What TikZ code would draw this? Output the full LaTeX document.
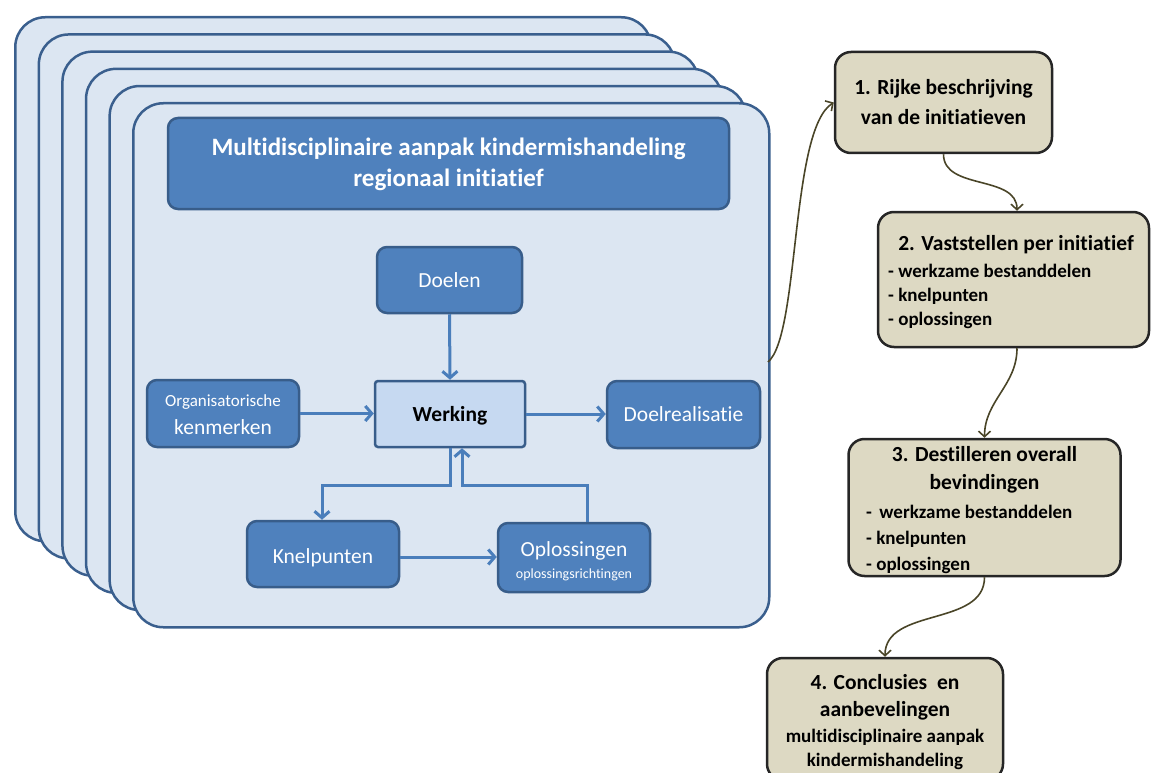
\documentclass[tikz,border=0pt]{standalone}
\usepackage{fontspec}
\setmainfont{Carlito}[Ligatures=NoCommon]
\usetikzlibrary{arrows.meta}
\definecolor{cardfill}{HTML}{DCE6F2}
\definecolor{cardline}{HTML}{3A5F8E}
\definecolor{boxfill}{HTML}{4F81BD}
\definecolor{boxline}{HTML}{385D8A}
\definecolor{werkfill}{HTML}{C6D9F1}
\definecolor{arrowblue}{HTML}{4A7EBB}
\definecolor{tanfill}{HTML}{DDD9C3}
\definecolor{tanline}{HTML}{262626}
\definecolor{olive}{HTML}{4A4528}
\tikzset{
  card/.style={draw=cardline, fill=cardfill, line width=2.5pt, rounded corners=30pt,
    anchor=north west, minimum width=636pt, minimum height=524pt, inner sep=0pt},
  bluebox/.style={draw=boxline, fill=boxfill, line width=2.5pt, rounded corners=10pt, inner sep=0pt},
  werkbox/.style={draw=boxline, fill=werkfill, line width=2.5pt, rounded corners=3pt, inner sep=0pt},
  tanbox/.style={draw=tanline, fill=tanfill, line width=2.5pt, rounded corners=16pt, inner sep=0pt},
  wtxt/.style={text=white, inner sep=0pt, anchor=base, font=\fontsize{21.5}{24}\selectfont},
  btxt/.style={text=black, inner sep=0pt, anchor=base, font=\bfseries\fontsize{21.5}{24}\selectfont},
  itxt/.style={text=black, inner sep=0pt, anchor=base west, font=\bfseries\fontsize{19}{22}\selectfont},
  barrow/.style={draw=arrowblue, line width=3pt, -{Straight Barb[length=6.5pt,width=15pt]}},
  oarrow/.style={draw=olive, line width=1.6pt, -{Straight Barb[length=5.5pt,width=12pt]}},
}
\begin{document}
\begin{tikzpicture}[x=1pt,y=-1pt]
\useasboundingbox (0,0) rectangle (1151,773);
% stacked cards
\node[card] (c1) at (14,16) {};
\node[card] (c2) at (37.6,33.2) {};
\node[card] (c3) at (61.2,50.4) {};
\node[card] (c4) at (84.8,67.6) {};
\node[card] (c5) at (108.4,84.8) {};
\node[card] (c6) at (132,102) {};
% title
\node[bluebox, minimum width=561pt, minimum height=91pt] (title) at (448.5,163.5) {};
\node[wtxt, font=\bfseries\fontsize{25}{30}\selectfont] (t1) at (448.5,156) {Multidisciplinaire aanpak kindermishandeling};
\node[wtxt, font=\bfseries\fontsize{25}{30}\selectfont] (t2) at (448.5,186) {regionaal initiatief};
% inner boxes
\node[bluebox, minimum width=145pt, minimum height=66pt] (doelen) at (449.5,280) {};
\node[wtxt] (doelent) at (449.5,287) {Doelen};
\node[werkbox, minimum width=150pt, minimum height=66pt] (werking) at (450,414) {};
\node[btxt] (werkingt) at (450,421) {Werking};
\node[bluebox, minimum width=152pt, minimum height=67pt] (org) at (223,413.5) {};
\node[wtxt, font=\fontsize{17}{20}\selectfont] (orgt1) at (223,406) {Organisatorische};
\node[wtxt] (orgt2) at (223,434) {kenmerken};
\node[bluebox, minimum width=153pt, minimum height=67pt] (doelr) at (683.5,414.5) {};
\node[wtxt] (doelrt) at (683.5,421) {Doelrealisatie};
\node[bluebox, minimum width=152pt, minimum height=66pt] (knel) at (323,554) {};
\node[wtxt] (knelt) at (323,563) {Knelpunten};
\node[bluebox, minimum width=152pt, minimum height=69pt] (opl) at (574,557.5) {};
\node[wtxt] (oplt1) at (574,556) {Oplossingen};
\node[wtxt, font=\fontsize{14}{16}\selectfont] (oplt2) at (574,578) {oplossingsrichtingen};
% blue arrows
\draw[barrow] (doelen.south) -- (werking.north);
\draw[barrow] (org.east) -- (org.east -| werking.west);
\draw[barrow] (werking.east) -- (werking.east -| doelr.west);
\coordinate (w1) at (450,485);
\coordinate (w2) at (322,485);
\coordinate (w3) at (587,485);
\coordinate (w4) at (462,485);
\draw[barrow] (werking.south -| w1) -- (w1) -- (w2) -- (w2 |- knel.north);
\draw[barrow] (opl.north -| w3) -- (w3) -- (w4) -- (w4 |- werking.south);
\draw[barrow] (knel.east |- 0,557) -- (opl.west |- 0,557);
% right boxes
\node[tanbox, minimum width=217pt, minimum height=101pt] (r1) at (943.5,102.5) {};
\node[btxt] (r1a) at (943.5,95) {1. Rijke beschrijving};
\node[btxt] (r1b) at (943.5,125) {van de initiatieven};
\node[tanbox, minimum width=271pt, minimum height=135pt] (r2) at (1013.5,279.5) {};
\node[btxt] (r2a) at (1016,250) {2. Vaststellen per initiatief};
\node[itxt] (r2b) at (888,277) {- werkzame bestanddelen};
\node[itxt] (r2c) at (888,301) {- knelpunten};
\node[itxt] (r2d) at (888,325) {- oplossingen};
\node[tanbox, minimum width=272pt, minimum height=137pt] (r3) at (984.5,507.5) {};
\node[btxt] (r3a) at (984.5,461) {3. Destilleren overall};
\node[btxt] (r3b) at (984.5,489) {bevindingen};
\node[itxt] (r3c) at (866,518) {- \,werkzame bestanddelen};
\node[itxt] (r3d) at (866,544) {- knelpunten};
\node[itxt] (r3e) at (866,570) {- oplossingen};
\node[tanbox, minimum width=236pt, minimum height=122pt] (r4) at (885,719) {};
\node[btxt] (r4a) at (885,689) {4. Conclusies~ en};
\node[btxt] (r4b) at (885,716) {aanbevelingen};
\node[btxt, font=\bfseries\fontsize{19}{22}\selectfont] (r4c) at (885,742) {multidisciplinaire aanpak};
\node[btxt, font=\bfseries\fontsize{19}{22}\selectfont] (r4d) at (885,766) {kindermishandeling};
% olive connectors
\coordinate (cs) at (768,362);
\draw[oarrow] (cs) .. controls (800,335) and (790,130) .. (r1.west);
\draw[oarrow] (r1.south) to[out=-90,in=90] (r2.north -| 1017,0);
\draw[oarrow] (r2.south -| 1017,0) to[out=-90,in=90] (r3.north);
\draw[oarrow] (r3.south) to[out=-90,in=90] (r4.north);
\end{tikzpicture}
\end{document}
